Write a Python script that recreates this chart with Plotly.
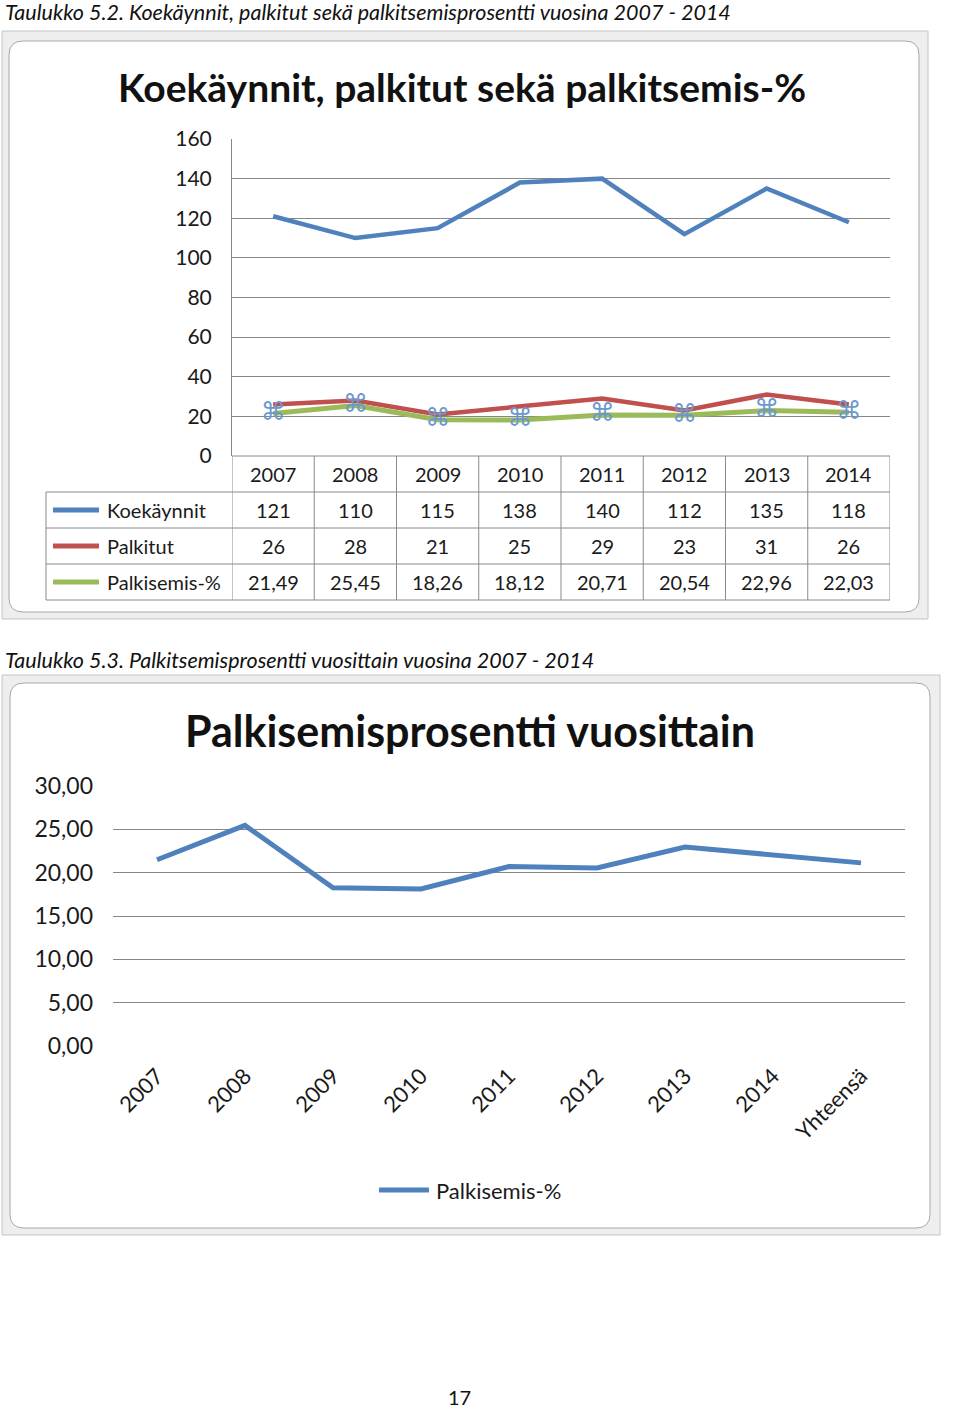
import plotly.graph_objects as go

# ---------------- data ----------------
years = ["2007", "2008", "2009", "2010", "2011", "2012", "2013", "2014"]
koekaynnit = [121, 110, 115, 138, 140, 112, 135, 118]
palkitut = [26, 28, 21, 25, 29, 23, 31, 26]
palkitsemis = [21.49, 25.45, 18.26, 18.12, 20.71, 20.54, 22.96, 22.03]

categories2 = years + ["Yhteensä"]
palkitsemis2 = palkitsemis + [21.13]

series_names = ["Koekäynnit", "Palkitut", "Palkisemis-%"]
y1_ticks = [0, 20, 40, 60, 80, 100, 120, 140, 160]
y2_ticks = [0, 5, 10, 15, 20, 25, 30]

caption1 = "Taulukko 5.2. Koekäynnit, palkitut sekä palkitsemisprosentti vuosina 2007 - 2014"
caption2 = "Taulukko 5.3. Palkitsemisprosentti vuosittain vuosina 2007 - 2014"
title1 = "Koekäynnit, palkitut sekä palkitsemis-%"
title2 = "Palkisemisprosentti vuosittain"
page_no = "17"

# ---------------- style ----------------
W, H = 960, 1408
BLUE, RED, GREEN = "#4f81bd", "#c0504d", "#9bbb59"
GRID = "#868686"
FONT = "Lato"
TXT = "#1a1a1a"


def X(px):
    return px / W


def Y(py):
    return 1 - py / H


def fmt(v):
    return f"{v:.2f}".replace(".", ",")


fig = go.Figure()

# chart 1 lines
fig.add_trace(go.Scatter(x=years, y=koekaynnit, mode="lines", line=dict(color=BLUE, width=4.5),
                         xaxis="x", yaxis="y", name=series_names[0], showlegend=False))
fig.add_trace(go.Scatter(x=years, y=palkitut, mode="lines", line=dict(color=RED, width=4.5),
                         xaxis="x", yaxis="y", name=series_names[1], showlegend=False))
fig.add_trace(go.Scatter(x=years, y=palkitsemis, mode="lines", line=dict(color=GREEN, width=5),
                         xaxis="x", yaxis="y", name=series_names[2], showlegend=False))
# selection handles on the green series
fig.add_trace(go.Scatter(x=years, y=palkitsemis, mode="text", text=["⌘"] * len(years),
                         textposition="middle center",
                         textfont=dict(family="DejaVu Sans", size=25, color="#6a98cf"),
                         xaxis="x", yaxis="y", showlegend=False, hoverinfo="skip"))

# chart 2 line
fig.add_trace(go.Scatter(x=categories2, y=palkitsemis2, mode="lines", line=dict(color=BLUE, width=5),
                         xaxis="x2", yaxis="y2", name=series_names[2], showlegend=False))

shapes = []
ann = []


def rounded_rect(x0, y0, x1, y1, r, fill, line):
    rx, ry = r / W, r / H
    a0, a1 = X(x0), X(x1)
    b0, b1 = Y(y0), Y(y1)  # b0 top, b1 bottom
    p = (f"M {a0+rx},{b0} L {a1-rx},{b0} Q {a1},{b0} {a1},{b0-ry} "
         f"L {a1},{b1+ry} Q {a1},{b1} {a1-rx},{b1} L {a0+rx},{b1} "
         f"Q {a0},{b1} {a0},{b1+ry} L {a0},{b0-ry} Q {a0},{b0} {a0+rx},{b0} Z")
    return dict(type="path", xref="paper", yref="paper", path=p, fillcolor=fill,
                line=dict(color=line, width=1), layer="below")


def rect(x0, y0, x1, y1, fill, line):
    return dict(type="rect", xref="paper", yref="paper", x0=X(x0), x1=X(x1), y0=Y(y1), y1=Y(y0),
                fillcolor=fill, line=dict(color=line, width=1), layer="below")


def text(x, y, s, size, xanchor="center", xref="paper", color=TXT, family=FONT):
    return dict(x=x, y=y, xref=xref, yref="paper", text=s, showarrow=False,
                xanchor=xanchor, yanchor="middle",
                font=dict(family=family, size=size, color=color))


# frames
shapes.append(rect(2, 31, 928, 619, "#eeeeee", "#c4c4c4"))
shapes.append(rounded_rect(9, 41, 919, 612, 14, "white", "#a8a8a8"))
shapes.append(rect(2, 675, 940, 1235, "#eeeeee", "#c4c4c4"))
shapes.append(rounded_rect(10, 683, 930, 1228, 14, "white", "#a8a8a8"))

# ---- chart 1 data table ----
TL = "#8a8a8a"
row_y = [492, 528, 564, 600]
shapes.append(dict(type="line", xref="paper", yref="paper", x0=X(232), x1=X(890), y0=Y(456), y1=Y(456),
                   line=dict(color=TL, width=1)))
for ry in row_y:
    shapes.append(dict(type="line", xref="paper", yref="paper", x0=X(46), x1=X(890), y0=Y(ry), y1=Y(ry),
                       line=dict(color=TL, width=1)))
shapes.append(dict(type="line", xref="paper", yref="paper", x0=X(46), x1=X(46), y0=Y(492), y1=Y(600),
                   line=dict(color=TL, width=1)))
for i in range(len(years) + 1):
    shapes.append(dict(type="line", xref="x", yref="paper", x0=i - 0.5, x1=i - 0.5, y0=Y(456), y1=Y(600),
                       line=dict(color=TL, width=1)))

TS = 20
for i, yr in enumerate(years):
    ann.append(text(i, Y(474), yr, TS, xref="x"))
    ann.append(text(i, Y(510), str(koekaynnit[i]), TS, xref="x"))
    ann.append(text(i, Y(546), str(palkitut[i]), TS, xref="x"))
    ann.append(text(i, Y(582), fmt(palkitsemis[i]), TS, xref="x"))

for name, col, cy in zip(series_names, [BLUE, RED, GREEN], [510, 546, 582]):
    shapes.append(dict(type="line", xref="paper", yref="paper", x0=X(53), x1=X(99), y0=Y(cy), y1=Y(cy),
                       line=dict(color=col, width=5)))
    ann.append(text(X(105), Y(cy), name, TS, xanchor="left"))

# ---- chart 2 legend ----
shapes.append(dict(type="line", xref="paper", yref="paper", x0=X(379), x1=X(429), y0=Y(1190), y1=Y(1190),
                   line=dict(color=BLUE, width=5)))
ann.append(text(X(434), Y(1190), series_names[2], 22, xanchor="left"))

# titles and captions
ann.append(text(X(462), Y(87), f"<b>{title1}</b>", 39, color="#111"))
ann.append(text(X(470), Y(730), f"<b>{title2}</b>", 43, color="#111"))
ann.append(text(X(3), Y(12), f"<i>{caption1}</i>", 21.5, xanchor="left", color="#111"))
ann.append(text(X(3), Y(660), f"<i>{caption2}</i>", 21.5, xanchor="left", color="#111"))
ann.append(text(X(459), Y(1397), page_no, 20, color="#111"))

fig.update_layout(
    template="none",
    width=W, height=H, autosize=False,
    margin=dict(l=0, r=0, t=0, b=0, pad=0),
    paper_bgcolor="white", plot_bgcolor="rgba(0,0,0,0)",
    separators=",.",
    showlegend=False,
    shapes=shapes, annotations=ann,
    font=dict(family=FONT, color=TXT),
    xaxis=dict(domain=[X(232), X(890)], type="category", range=[-0.5, 7.5], showticklabels=False,
               showgrid=False, zeroline=False, showline=False, anchor="y", automargin=False),
    yaxis=dict(domain=[Y(456), Y(139)], range=[0, 160], tickvals=y1_ticks, showgrid=True,
               gridcolor=GRID, gridwidth=1, zeroline=False, showline=True, linecolor=GRID,
               ticks="", ticklabelstandoff=15, tickfont=dict(family=FONT, size=21, color=TXT),
               anchor="x", automargin=False),
    xaxis2=dict(domain=[X(113), X(905)], type="category", range=[-0.5, 8.5], showgrid=False,
                zeroline=False, showline=False, tickangle=-45, ticks="", ticklabelstandoff=12,
                tickfont=dict(family=FONT, size=22, color=TXT), anchor="y2", automargin=False),
    yaxis2=dict(domain=[Y(1046), Y(786)], range=[0, 30], tickvals=y2_ticks, tickformat=".2f",
                showgrid=True, gridcolor=GRID, gridwidth=1, zeroline=False, showline=False,
                ticks="", ticklabelstandoff=19, tickfont=dict(family=FONT, size=23, color=TXT),
                anchor="x2", automargin=False),
)

fig.write_html("out.html", config={"displayModeBar": False},
               post_script="document.body.style.margin='0px';")
